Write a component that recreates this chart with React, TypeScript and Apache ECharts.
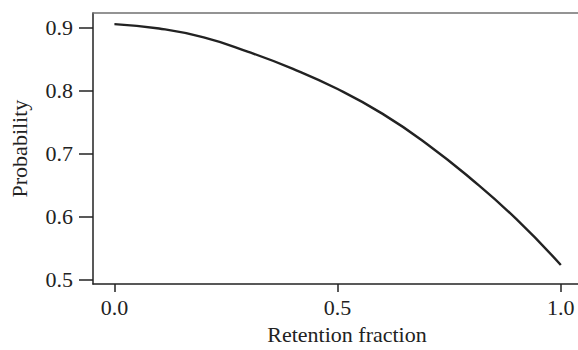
import React, { useEffect, useRef } from "react";
import * as echarts from "echarts";

const retention = [0, 0.1, 0.2, 0.3, 0.4, 0.5, 0.6, 0.7, 0.8, 0.9, 1.0];
const probability = [0.905, 0.898, 0.884, 0.861, 0.834, 0.802, 0.763, 0.715, 0.659, 0.596, 0.523];
const xTicks = [0, 0.5, 1.0];
const yTicks = [0.5, 0.6, 0.7, 0.8, 0.9];

const FONT = "Liberation Serif";
const INK = "#222222";
const FS = 22;

export default function App() {
  const ref = useRef<HTMLDivElement>(null);
  useEffect(() => {
    if (!ref.current) return;
    const chart = echarts.init(ref.current, null, { renderer: "svg" });
    const data = retention.map((x, i) => [x, probability[i]]);
    chart.setOption({
      animation: false,
      backgroundColor: "#ffffff",
      grid: { left: 91, top: 13, bottom: 60, right: 0, containLabel: false },
      xAxis: [
        {
          type: "value",
          min: -0.048,
          max: 1.0385,
          name: "Retention fraction",
          nameLocation: "middle",
          nameGap: 33,
          nameTextStyle: { fontFamily: FONT, fontSize: FS, color: INK, padding: [0, 0, 0, 23] },
          axisLine: { show: true, onZero: false, lineStyle: { color: INK, width: 1.5 } },
          axisTick: {
            show: true,
            length: 8,
            lineStyle: { color: INK, width: 1.5 },
            customValues: xTicks,
          },
          axisLabel: {
            show: true,
            margin: 12,
            fontFamily: FONT,
            fontSize: FS,
            color: INK,
            customValues: xTicks,
            formatter: (v: number) => v.toFixed(1),
          },
          splitLine: { show: false },
        },
        {
          type: "value",
          position: "top",
          min: -0.048,
          max: 1.0385,
          axisLine: { show: true, onZero: false, lineStyle: { color: "#707070", width: 1.5 } },
          axisTick: { show: false },
          axisLabel: { show: false },
          splitLine: { show: false },
        },
      ],
      yAxis: {
        type: "value",
        min: 0.4927,
        max: 0.9226,
        name: "Probability",
        nameLocation: "middle",
        nameGap: 63,
        nameTextStyle: { fontFamily: FONT, fontSize: FS, color: INK },
        axisLine: { show: true, onZero: false, lineStyle: { color: INK, width: 1.5 } },
        axisTick: {
          show: true,
          length: 14,
          lineStyle: { color: INK, width: 1.5 },
          customValues: yTicks,
        },
        axisLabel: {
          show: true,
          margin: 20,
          fontFamily: FONT,
          fontSize: FS,
          color: INK,
          customValues: yTicks,
          formatter: (v: number) => v.toFixed(1),
        },
        splitLine: { show: false },
      },
      series: [
        {
          type: "line",
          data,
          smooth: true,
          showSymbol: false,
          lineStyle: { color: INK, width: 2.4 },
          clip: false,
        },
      ],
    });
    return () => chart.dispose();
  }, []);
  return (
    <div
      ref={ref}
      style={{ position: "absolute", left: 0, top: 0, width: 578, height: 350, overflow: "hidden" }}
    />
  );
}
